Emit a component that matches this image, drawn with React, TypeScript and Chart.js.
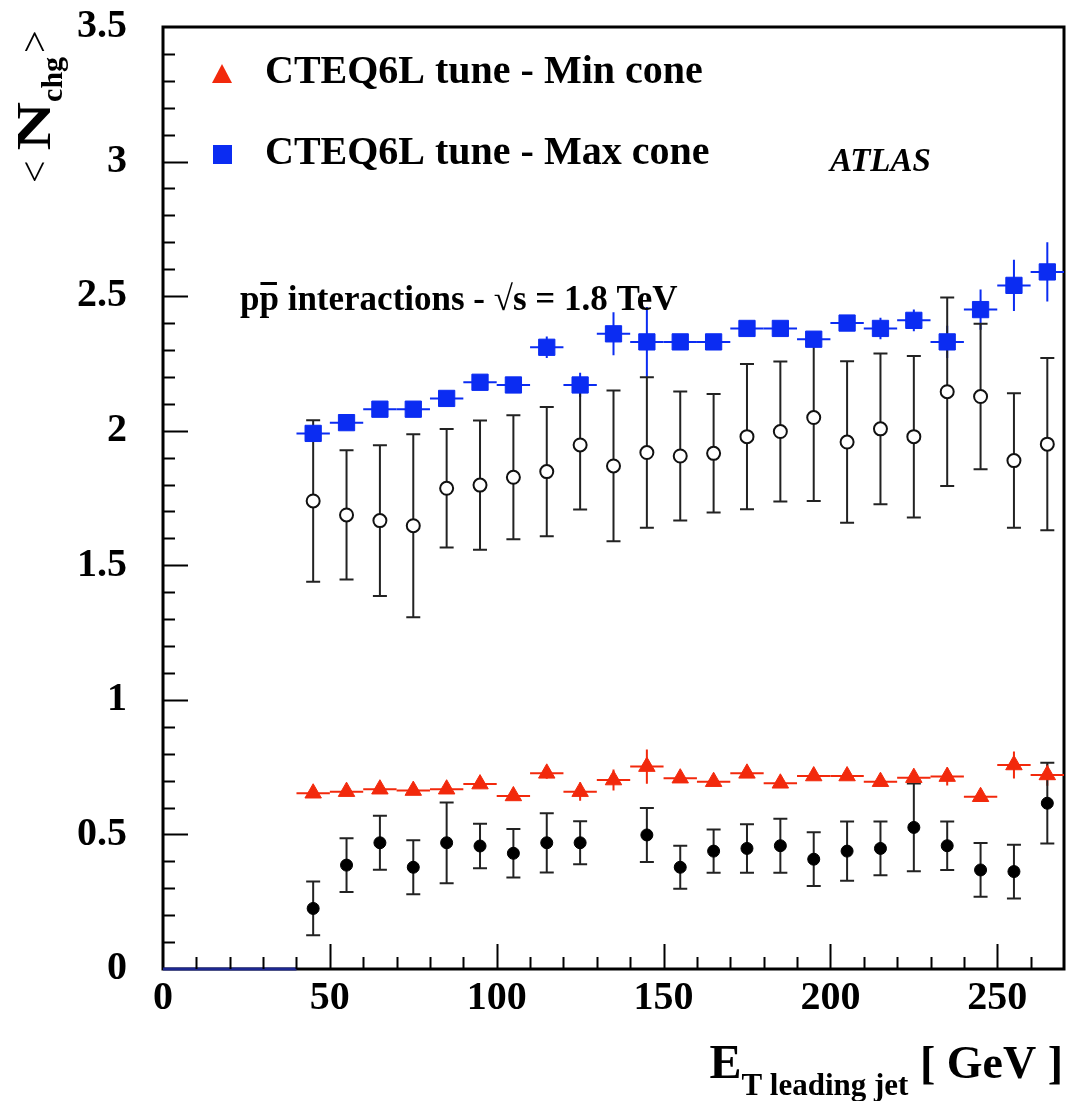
import React, { useEffect, useRef } from 'react';
import { Chart, registerables } from 'chart.js';

Chart.register(...registerables);

// ---- data ----
const etBins = [45, 55, 65, 75, 85, 95, 105, 115, 125, 135, 145, 155, 165, 175, 185, 195, 205, 215, 225, 235, 245, 255, 265];
const binHalfWidth = 5;

const maxConeTune = [1.99, 2.03, 2.08, 2.08, 2.12, 2.18, 2.17, 2.31, 2.17, 2.36, 2.33, 2.33, 2.33, 2.38, 2.38, 2.34, 2.40, 2.38, 2.41, 2.33, 2.45, 2.54, 2.59];
const maxConeTuneErr = [0.02, 0.02, 0.02, 0.02, 0.02, 0.02, 0.02, 0.04, 0.045, 0.08, 0.13, 0.02, 0.02, 0.02, 0.02, 0.02, 0.02, 0.04, 0.04, 0.06, 0.075, 0.095, 0.11];

const minConeTune = [0.653, 0.659, 0.668, 0.663, 0.668, 0.687, 0.643, 0.727, 0.659, 0.702, 0.752, 0.709, 0.696, 0.727, 0.690, 0.717, 0.717, 0.696, 0.711, 0.715, 0.640, 0.758, 0.721];
const minConeTuneErr = [0.015, 0.015, 0.015, 0.015, 0.015, 0.015, 0.015, 0.02, 0.034, 0.039, 0.064, 0.015, 0.015, 0.015, 0.015, 0.015, 0.015, 0.015, 0.015, 0.033, 0.015, 0.05, 0.04];

const maxConeData = [1.739, 1.687, 1.666, 1.647, 1.786, 1.798, 1.827, 1.848, 1.947, 1.869, 1.919, 1.906, 1.916, 1.978, 1.997, 2.049, 1.958, 2.007, 1.978, 2.145, 2.127, 1.889, 1.950];
const maxConeDataErr = [0.30, 0.24, 0.28, 0.34, 0.22, 0.24, 0.23, 0.24, 0.24, 0.28, 0.28, 0.24, 0.22, 0.27, 0.26, 0.31, 0.30, 0.28, 0.30, 0.35, 0.27, 0.25, 0.32];

const minConeData = [0.225, 0.386, 0.469, 0.378, 0.469, 0.457, 0.430, 0.469, 0.469, null, 0.498, 0.378, 0.438, 0.448, 0.458, 0.408, 0.438, 0.448, 0.526, 0.458, 0.368, 0.362, 0.616];
const minConeDataErr = [0.10, 0.10, 0.10, 0.10, 0.15, 0.083, 0.09, 0.11, 0.08, null, 0.10, 0.08, 0.08, 0.09, 0.10, 0.10, 0.11, 0.10, 0.163, 0.09, 0.10, 0.10, 0.15];

const lowEtLineX = [0, 40];
const lowEtLineY = [0, 0];

const legendLabels = ['CTEQ6L tune - Min cone', 'CTEQ6L tune - Max cone'];
const experimentLabel = 'ATLAS';
const processLabelRest = ' interactions - \u221As = 1.8 TeV';

const xMin = 0;
const xMax = 270;
const xStep = 50;
const xMinorStep = 10;
const yMin = 0;
const yMax = 3.5;
const yStep = 0.5;
const yMinorStep = 0.1;

const RED = '#f2290c';
const BLUE = '#0b2cf2';
const SERIF = '"Liberation Serif", "Times New Roman", serif';

const toPoints = (vals: (number | null)[]) => etBins.map((x, i) => ({ x, y: vals[i] }));

const errorBarPlugin = {
  id: 'errorBars',
  beforeDatasetsDraw(chart: any) {
    const { ctx, chartArea: a, scales } = chart;
    const xs = scales.x;
    const ys = scales.y;
    // frame
    ctx.save();
    ctx.strokeStyle = '#000';
    ctx.lineWidth = 3;
    ctx.strokeRect(a.left, a.top, a.right - a.left, a.bottom - a.top);
    ctx.restore();

    chart.data.datasets.forEach((ds: any) => {
      if (!ds.errors) return;
      ctx.save();
      ctx.strokeStyle = ds.errColor;
      ctx.lineWidth = 2;
      ds.data.forEach((p: any, i: number) => {
        if (p.y === null || p.y === undefined) return;
        const e = ds.errors[i];
        const px = xs.getPixelForValue(p.x);
        const py = ys.getPixelForValue(p.y);
        const t = ys.getPixelForValue(p.y + e);
        const b = ys.getPixelForValue(p.y - e);
        ctx.beginPath();
        ctx.moveTo(px, t);
        ctx.lineTo(px, b);
        if (ds.caps) {
          ctx.moveTo(px - 7, t);
          ctx.lineTo(px + 7, t);
          ctx.moveTo(px - 7, b);
          ctx.lineTo(px + 7, b);
        }
        if (ds.xErr) {
          ctx.moveTo(xs.getPixelForValue(p.x - binHalfWidth), py);
          ctx.lineTo(xs.getPixelForValue(p.x + binHalfWidth), py);
        }
        ctx.stroke();
      });
      ctx.restore();
    });
  },
  afterDatasetsDraw(chart: any) {
    const { ctx, chartArea: a, scales } = chart;
    const xs = scales.x;
    const ys = scales.y;
    ctx.save();
    ctx.strokeStyle = '#000';
    ctx.lineWidth = 2;
    ctx.beginPath();
    for (let v = yMin + yMinorStep; v < yMax - 1e-6; v += yMinorStep) {
      const r = Math.round(v * 10) / 10;
      const major = Math.abs(r / yStep - Math.round(r / yStep)) < 1e-6;
      const py = Math.round(ys.getPixelForValue(r)) + 0.5;
      ctx.moveTo(a.left, py);
      ctx.lineTo(a.left + (major ? 25 : 12), py);
    }
    for (let v = xMin + xMinorStep; v < xMax; v += xMinorStep) {
      const major = v % xStep === 0;
      const px = Math.round(xs.getPixelForValue(v)) + 0.5;
      ctx.moveTo(px, a.bottom);
      ctx.lineTo(px, a.bottom - (major ? 25 : 12));
    }
    ctx.stroke();
    ctx.restore();
  },
  afterDraw(chart: any) {
    const ctx = chart.ctx;
    ctx.save();
    ctx.textBaseline = 'alphabetic';
    ctx.textAlign = 'left';

    // legend markers
    ctx.fillStyle = RED;
    ctx.beginPath();
    ctx.moveTo(222, 64);
    ctx.lineTo(232, 83);
    ctx.lineTo(212, 83);
    ctx.closePath();
    ctx.fill();
    ctx.fillStyle = BLUE;
    ctx.fillRect(213, 145, 19, 19);

    ctx.fillStyle = '#000';
    ctx.font = `bold 40px ${SERIF}`;
    ctx.fillText(legendLabels[0], 265, 83);
    ctx.fillText(legendLabels[1], 265, 164);

    ctx.font = `italic bold 33px ${SERIF}`;
    ctx.fillText(experimentLabel, 830, 171);

    ctx.font = `bold 35px ${SERIF}`;
    const pw = ctx.measureText('p').width;
    ctx.fillText('pp', 240, 310);
    ctx.fillRect(240 + pw + 1, 282, pw - 3, 3);
    ctx.fillText(processLabelRest, 240 + 2 * pw, 310);

    // x title
    ctx.font = `bold 48px ${SERIF}`;
    const wE = ctx.measureText('E').width;
    ctx.font = `bold 46px ${SERIF}`;
    const wG = ctx.measureText(' [ GeV ]').width;
    ctx.font = `bold 31px ${SERIF}`;
    const wS = ctx.measureText('T leading jet').width;
    const x0 = 1063 - (wE + wS + wG);
    ctx.font = `bold 48px ${SERIF}`;
    ctx.fillText('E', x0, 1078);
    ctx.font = `bold 31px ${SERIF}`;
    ctx.fillText('T leading jet', x0 + wE, 1095);
    ctx.font = `bold 46px ${SERIF}`;
    ctx.fillText(' [ GeV ]', x0 + wE + wS, 1078);

    // y title (rotated)
    ctx.translate(50, 183);
    ctx.rotate(-Math.PI / 2);
    ctx.font = `40px ${SERIF}`;
    ctx.fillText('<', 0, -2);
    let lx = ctx.measureText('<').width + 10;
    ctx.font = `bold 48px ${SERIF}`;
    const wN = ctx.measureText('N').width;
    ctx.save();
    ctx.translate(lx, 0);
    ctx.scale(1.4, 1);
    ctx.fillText('N', 0, 0);
    ctx.restore();
    lx += wN * 1.4;
    ctx.font = `bold 30px ${SERIF}`;
    ctx.fillText('chg', lx, 12);
    lx += ctx.measureText('chg').width + 4;
    ctx.font = `40px ${SERIF}`;
    ctx.fillText('>', lx, -2);
    ctx.restore();
  },
};

const resetPadding = (s: any) => {
  s.paddingTop = 0;
  s.paddingBottom = 0;
  s.paddingLeft = 0;
  s.paddingRight = 0;
};

export default function App() {
  const canvasRef = useRef<HTMLCanvasElement | null>(null);

  useEffect(() => {
    document.body.style.margin = '0';
    const canvas = canvasRef.current;
    if (!canvas) return;
    const tickFont = { family: SERIF, size: 40, weight: 'bold' as const };
    const chart = new Chart(canvas, {
      type: 'scatter',
      data: {
        datasets: [
          {
            label: legendLabels[0],
            data: toPoints(minConeTune),
            pointStyle: 'triangle',
            pointRadius: 9.5,
            backgroundColor: RED,
            borderColor: RED,
            borderWidth: 1,
            errors: minConeTuneErr,
            errColor: RED,
            xErr: true,
            caps: false,
          } as any,
          {
            label: legendLabels[1],
            data: toPoints(maxConeTune),
            pointStyle: 'rect',
            pointRadius: 11.5,
            backgroundColor: BLUE,
            borderColor: BLUE,
            borderWidth: 1,
            errors: maxConeTuneErr,
            errColor: BLUE,
            xErr: true,
            caps: false,
          } as any,
          {
            label: 'Data max cone',
            data: toPoints(maxConeData),
            pointStyle: 'circle',
            pointRadius: 6.5,
            backgroundColor: '#ffffff',
            borderColor: '#111111',
            borderWidth: 2,
            errors: maxConeDataErr,
            errColor: '#222222',
            xErr: false,
            caps: true,
          } as any,
          {
            label: 'Data min cone',
            data: toPoints(minConeData),
            pointStyle: 'circle',
            pointRadius: 6,
            backgroundColor: '#000000',
            borderColor: '#000000',
            borderWidth: 1,
            errors: minConeDataErr,
            errColor: '#222222',
            xErr: false,
            caps: true,
          } as any,
          {
            type: 'line',
            label: 'low Et',
            data: lowEtLineX.map((x, i) => ({ x, y: lowEtLineY[i] })),
            borderColor: '#1c2690',
            borderWidth: 3,
            pointRadius: 0,
            showLine: true,
            clip: false,
          } as any,
        ],
      },
      options: {
        responsive: false,
        animation: false,
        layout: { autoPadding: false, padding: { top: 27, right: 2, left: 0, bottom: 0 } },
        plugins: { legend: { display: false }, tooltip: { enabled: false } },
        scales: {
          x: {
            type: 'linear',
            min: xMin,
            max: xMax,
            grid: { display: false, drawTicks: false },
            border: { display: false },
            ticks: { stepSize: xStep, includeBounds: false, font: tickFont, color: '#000', padding: 6, maxRotation: 0 },
            afterFit: (s: any) => {
              s.height = 132;
              resetPadding(s);
            },
          },
          y: {
            type: 'linear',
            min: yMin,
            max: yMax,
            grid: { display: false, drawTicks: false },
            border: { display: false },
            ticks: {
              stepSize: yStep,
              font: tickFont,
              color: '#000',
              padding: 36,
              callback: (v: any) => `${Number(v)}`,
            },
            afterFit: (s: any) => {
              s.width = 163;
              resetPadding(s);
            },
          },
        },
      } as any,
      plugins: [errorBarPlugin],
    });
    return () => chart.destroy();
  }, []);

  return (
    <div style={{ width: 1066, height: 1101, background: '#fff' }}>
      <canvas ref={canvasRef} width={1066} height={1101} style={{ display: 'block' }} />
    </div>
  );
}
